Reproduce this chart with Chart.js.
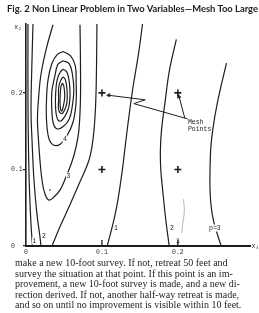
<!DOCTYPE html>
<html>
<head>
<meta charset="utf-8">
<script src="https://cdn.jsdelivr.net/npm/chart.js@4/dist/chart.umd.min.js"></script>
<style>
  html, body { margin: 0; padding: 0; background: #fff; }
  body { width: 259px; height: 313px; position: relative; overflow: hidden; }
  #title { position: absolute; left: 7px; top: 2px; font: bold 10px Lato, "Liberation Sans", sans-serif; color: #222; white-space: nowrap; transform-origin: 0 0; }
  #wrap { position: absolute; left: 0; top: 0; width: 259px; height: 260px; }
  #text { position: absolute; left: 15px; top: 258px; width: 238px; font: 10px "Liberation Serif", serif; line-height: 10.5px; color: #1e1e1e; }
  #text div { white-space: nowrap; }
</style>
</head>
<body>
<div id="wrap"><canvas id="chart" width="259" height="260"></canvas></div>
<div id="title">Fig. 2 Non Linear Problem in Two Variables—Mesh Too Large</div>
<div id="text">
  <div>make a new 10-foot survey. If not, retreat 50 feet and</div>
  <div>survey the situation at that point. If this point is an im-</div>
  <div>provement, a new 10-foot survey is made, and a new di-</div>
  <div>rection derived. If not, another half-way retreat is made,</div>
  <div>and so on until no improvement is visible within 10 feet.</div>
</div>
<script>
// Axis ticks
const xTicks = [0, 0.1, 0.2];
const xTickLabels = ['0', '0.1', '0.2'];
const yTicks = [0, 0.1, 0.2];
const yTickLabels = ['0', '0.1', '0.2'];

// Contour lines (x1, x2)
const contour1Left = [
    {x:0.0026,y:0.290},{x:0.0026,y:0.191},{x:0.0033,y:0.126},{x:0.0046,y:0.073},{x:0.0066,y:0.028},{x:0.0086,y:0}
];
const contour1Right = [
    {x:0.1535,y:0.290},{x:0.148,y:0.250},{x:0.141,y:0.208},{x:0.135,y:0.165},{x:0.130,y:0.125},
    {x:0.127,y:0.100},{x:0.121,y:0.060},{x:0.116,y:0.035},{x:0.107,y:0}
];
const contour2Left = [
    {x:0.0092,y:0.290},{x:0.0079,y:0.243},{x:0.0066,y:0.178},{x:0.0079,y:0.139},{x:0.0105,y:0.086},
    {x:0.0145,y:0.041},{x:0.0184,y:0.012},{x:0.0197,y:0}
];
const contour2Right = [
    {x:0.198,y:0.270},{x:0.189,y:0.230},{x:0.183,y:0.187},{x:0.1785,y:0.152},{x:0.177,y:0.125},
    {x:0.1775,y:0.100},{x:0.180,y:0.073},{x:0.184,y:0.035},{x:0.1886,y:0}
];
const contour3Loop = [
    {x:0.0355,y:0.289},{x:0.0263,y:0.256},{x:0.0197,y:0.224},{x:0.0164,y:0.191},{x:0.0151,y:0.165},
    {x:0.0164,y:0.139},{x:0.0184,y:0.112},{x:0.0211,y:0.086},{x:0.025,y:0.068},{x:0.0303,y:0.060},
    {x:0.0368,y:0.064},{x:0.0447,y:0.073},{x:0.0526,y:0.090},{x:0.0605,y:0.110},{x:0.0658,y:0.129},
    {x:0.0697,y:0.152},{x:0.0717,y:0.191},{x:0.0717,y:0.243},{x:0.0711,y:0.289}
];
const contourMid = [
    {x:0.0934,y:0.290},{x:0.0928,y:0.230},{x:0.0914,y:0.178},{x:0.0882,y:0.139},{x:0.0829,y:0.112},
    {x:0.0711,y:0.084},{x:0.0579,y:0.054},{x:0.0447,y:0.025},{x:0.0342,y:0}
];
const contour3Right = [
    {x:0.264,y:0.239},{x:0.252,y:0.187},{x:0.246,y:0.152},{x:0.243,y:0.122},{x:0.2425,y:0.070},
    {x:0.2465,y:0.035},{x:0.257,y:0}
];
const ring4 = [
    {x:0.049,y:0.254},{x:0.059,y:0.248},{x:0.065,y:0.235},{x:0.066,y:0.214},{x:0.066,y:0.188},
    {x:0.062,y:0.162},{x:0.054,y:0.144},{x:0.045,y:0.133},{x:0.036,y:0.132},{x:0.030,y:0.141},
    {x:0.027,y:0.165},{x:0.027,y:0.191},{x:0.029,y:0.217},{x:0.034,y:0.238},{x:0.041,y:0.250},{x:0.049,y:0.254}
];
const ring5 = [
    {x:0.049,y:0.242},{x:0.057,y:0.238},{x:0.061,y:0.225},{x:0.063,y:0.204},{x:0.061,y:0.183},
    {x:0.057,y:0.166},{x:0.049,y:0.156},{x:0.041,y:0.153},{x:0.036,y:0.160},{x:0.034,y:0.178},
    {x:0.034,y:0.201},{x:0.038,y:0.222},{x:0.042,y:0.237},{x:0.049,y:0.242}
];
const ring6 = [
    {x:0.049,y:0.231},{x:0.054,y:0.227},{x:0.057,y:0.214},{x:0.058,y:0.196},{x:0.056,y:0.180},
    {x:0.051,y:0.169},{x:0.045,y:0.163},{x:0.041,y:0.167},{x:0.039,y:0.180},{x:0.039,y:0.199},
    {x:0.041,y:0.217},{x:0.045,y:0.227},{x:0.049,y:0.231}
];
const ring7 = [
    {x:0.049,y:0.221},{x:0.052,y:0.217},{x:0.054,y:0.204},{x:0.054,y:0.188},{x:0.051,y:0.178},
    {x:0.047,y:0.173},{x:0.043,y:0.178},{x:0.043,y:0.191},{x:0.043,y:0.207},{x:0.046,y:0.217},{x:0.049,y:0.221}
];
const ring8 = [
    {x:0.048,y:0.213},{x:0.050,y:0.208},{x:0.051,y:0.195},{x:0.049,y:0.182},{x:0.047,y:0.176},
    {x:0.045,y:0.183},{x:0.045,y:0.197},{x:0.046,y:0.208},{x:0.048,y:0.213}
];
const faintMark = [{x:0.2074,y:0.061},{x:0.2085,y:0.045},{x:0.2065,y:0.030},{x:0.2052,y:0.017}];

// Mesh points and the arrows pointing at them
const meshPoints = [{x:0.1,y:0.2},{x:0.2,y:0.2},{x:0.1,y:0.1},{x:0.2,y:0.1}];
const arrowLeft = [{x:0.108,y:0.197},{x:0.157,y:0.191},{x:0.142,y:0.186},{x:0.213,y:0.166}];
const arrowRight = [{x:0.2092,y:0.1667},{x:0.2011,y:0.197}];
const arrowTips = [{x:0.109,y:0.197},{x:0.2014,y:0.195}];
const strayDot = [{x:0.0316,y:0.073}];

// Text in the plot
const plotLabels = [
    {text:'1', x:0.0112, y:0.0065, box:true},
    {text:'2', x:0.0237, y:0.0131, box:true},
    {text:'3', x:0.0559, y:0.0915, box:true},
    {text:'4', x:0.0513, y:0.1399, box:true},
    {text:'1', x:0.1185, y:0.0235},
    {text:'2', x:0.1921, y:0.0235},
    {text:'p=3', x:0.2487, y:0.0235, box:true},
    {text:'1', x:0.2, y:0.006},
    {text:'Mesh', x:0.2132, y:0.162, align:'left'},
    {text:'Points', x:0.2132, y:0.153, align:'left'},
    {text:'x\u2082', x:-0.0105, y:0.286},
    {text:'x\u2081', x:0.302, y:0}
];

const ink = '#1e1e1e';
function contour(data) {
    return { data, showLine: true, tension: 0.4, pointRadius: 0, borderColor: ink, borderWidth: 1.2, fill: false };
}

const labelPlugin = {
    id: 'plotLabels',
    afterDatasetsDraw(chart) {
        const { ctx, scales: { x, y } } = chart;
        ctx.save();
        ctx.font = '6.5px "Liberation Mono", monospace';
        ctx.textBaseline = 'middle';
        plotLabels.forEach(l => {
            const px = x.getPixelForValue(l.x), py = y.getPixelForValue(l.y);
            ctx.textAlign = l.align || 'center';
            if (l.box) {
                const w = ctx.measureText(l.text).width;
                ctx.fillStyle = '#fff';
                ctx.fillRect(px - w / 2 - 0.5, py - 3.5, w + 1, 7);
            }
            ctx.fillStyle = ink;
            ctx.fillText(l.text, px, py);
        });
        ctx.restore();
    }
};

const datasets = [
    contour(contour1Left), contour(contour1Right), contour(contour2Left), contour(contour2Right),
    contour(contour3Loop), contour(contourMid), contour(contour3Right),
    contour(ring4), contour(ring5), contour(ring6), contour(ring7), contour(ring8),
    { data: faintMark, showLine: true, tension: 0.4, pointRadius: 0, borderColor: '#b5b5b5', borderWidth: 1 },
    { data: arrowLeft, showLine: true, tension: 0, pointRadius: 0, borderColor: ink, borderWidth: 1 },
    { data: arrowRight, showLine: true, tension: 0, pointRadius: 0, borderColor: ink, borderWidth: 1 },
    { data: arrowTips, pointStyle: 'triangle', rotation: [-95, -15], pointRadius: 2.2,
      backgroundColor: ink, borderColor: ink, borderWidth: 0.5 },
    { data: meshPoints, pointStyle: 'cross', pointRadius: 3.5, borderColor: ink, borderWidth: 1.6 },
    { data: xTicks.slice(1).map(v => ({x: v, y: 0.004})), pointStyle: 'line', rotation: 90,
      pointRadius: 3, borderColor: ink, borderWidth: 1.3 },
    { data: strayDot, pointRadius: 0.8, backgroundColor: ink, borderWidth: 0 }
];

new Chart(document.getElementById('chart').getContext('2d'), {
    type: 'scatter',
    data: { datasets },
    options: {
        responsive: false,
        animation: false,
        events: [],
        layout: { padding: { left: 11, top: 24, right: 9, bottom: 0 } },
        plugins: { legend: { display: false }, tooltip: { enabled: false } },
        scales: {
            x: {
                min: 0, max: 0.295,
                afterBuildTicks: s => { s.ticks = xTicks.map(v => ({ value: v })); },
                afterFit: s => { s.height = 14; },
                grid: { display: false, drawTicks: false },
                border: { color: ink, width: 2 },
                ticks: {
                    padding: 2, color: '#333',
                    font: { family: '"Liberation Mono", monospace', size: 6.5 },
                    callback: (v, i) => xTickLabels[i]
                }
            },
            y: {
                min: 0, max: 0.29,
                afterBuildTicks: s => { s.ticks = yTicks.map(v => ({ value: v })); },
                afterFit: s => { s.width = 15; },
                grid: { drawOnChartArea: false, drawTicks: true, tickLength: 3, color: ink, lineWidth: 1.2 },
                border: { color: ink, width: 1.6 },
                ticks: {
                    padding: 1, color: '#333', crossAlign: 'far',
                    font: { family: '"Liberation Mono", monospace', size: 6.5 },
                    callback: (v, i) => yTickLabels[i]
                }
            }
        }
    },
    plugins: [labelPlugin]
});

// Fit title and justified lines to the column width
const title = document.getElementById('title');
title.style.transform = 'scaleX(' + (251 / title.offsetWidth) + ')';
document.querySelectorAll('#text div').forEach(line => {
    const spaces = (line.textContent.match(/ /g) || []).length;
    const extra = 238 - line.offsetWidth;
    if (spaces) line.style.wordSpacing = (extra / spaces) + 'px';
});
</script>
</body>
</html>
